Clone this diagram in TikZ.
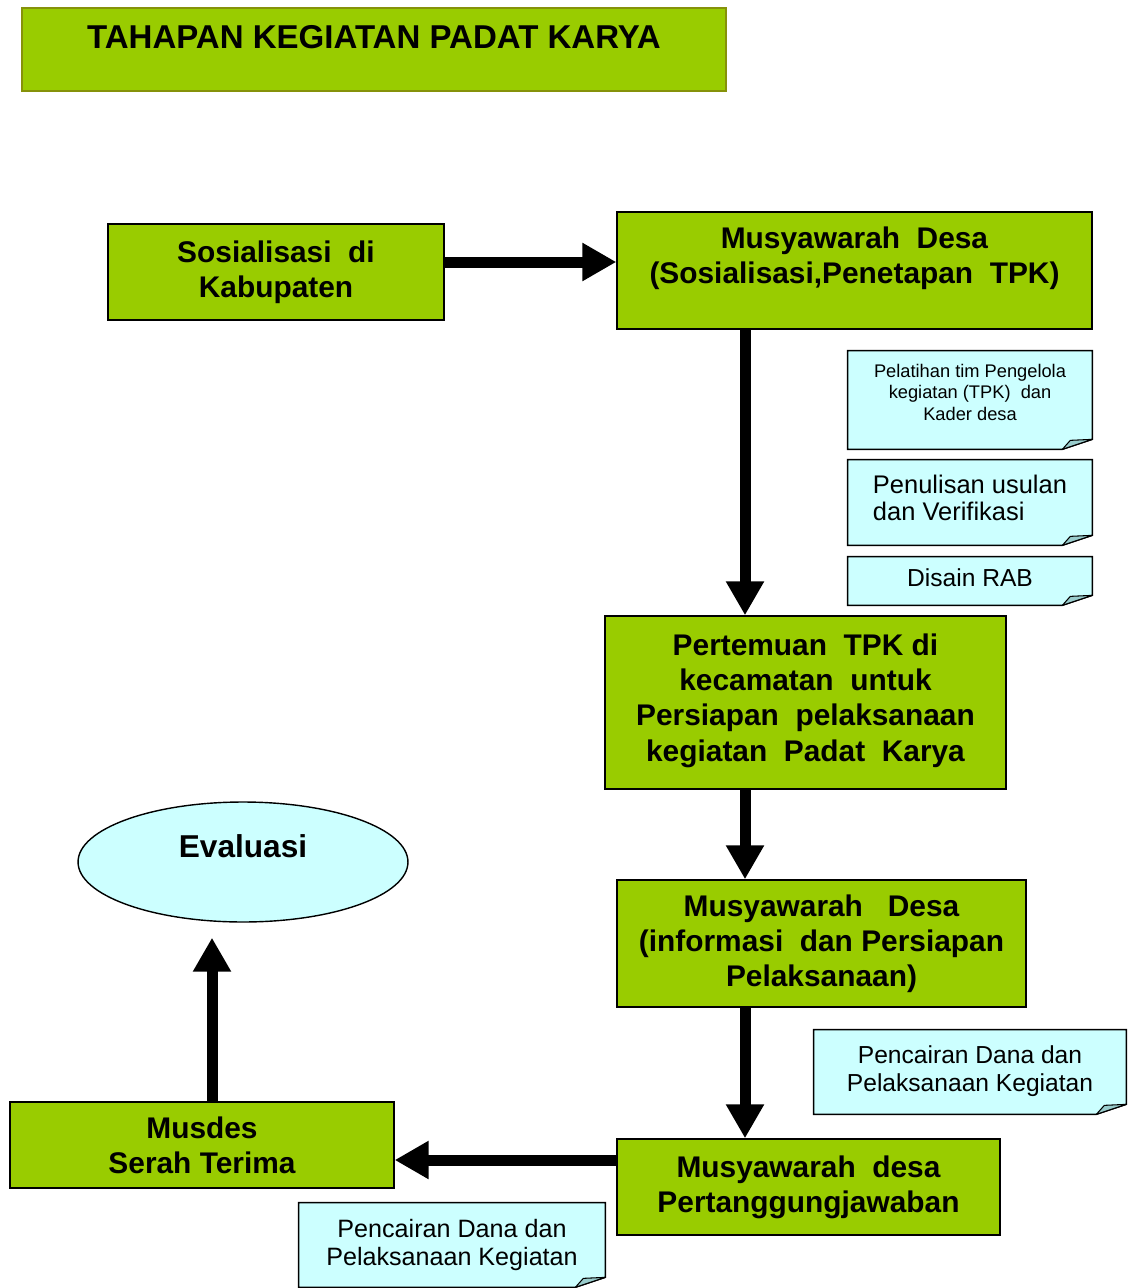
\documentclass[tikz,border=0pt]{standalone}
\usepackage{fontspec}
\setmainfont{Liberation Sans}
\usetikzlibrary{arrows.meta,shapes.geometric,backgrounds}

\definecolor{padatgreen}{HTML}{99CC00}
\definecolor{notecyan}{HTML}{CCFFFF}
\definecolor{foldcyan}{HTML}{99CCCC}
\definecolor{titleline}{HTML}{86920A}

\tikzset{
  stepbox/.style={draw=black, line width=0.8pt, fill=padatgreen, align=center,
    inner sep=0pt, font=\fontsize{17}{20}\selectfont\bfseries},
  notebox/.style={inner sep=0pt, align=center, font=\fontsize{14}{16}\selectfont},
  bigarrow/.style={line width=0.22cm, -{Triangle[length=0.68cm,width=0.72cm]}},
}

\begin{document}
\begin{tikzpicture}[x=0.02cm, y=-0.02cm]
  \useasboundingbox (0,0) rectangle (1132,1288);

  % judul
  \node[stepbox, draw=titleline, line width=1.1pt, minimum width=14.08cm, minimum height=1.66cm,
        text depth=0.5cm, font=\fontsize{18.8}{21}\selectfont\bfseries] (title) at (374,49.5)
        {TAHAPAN KEGIATAN PADAT KARYA};

  % tahapan
  \node[stepbox, minimum width=6.72cm, minimum height=1.92cm] (sosial) at (276,272)
        {Sosialisasi\ \ di\\Kabupaten};
  \node[stepbox, minimum width=9.5cm, minimum height=2.34cm, text depth=0.62cm] (musdesa) at (854.5,270.5)
        {Musyawarah\ \ Desa\\(Sosialisasi,Penetapan\ \ TPK)};
  \node[stepbox, minimum width=8.02cm, minimum height=3.46cm, text depth=0.2cm] (pertemuan) at (805.5,702.5)
        {Pertemuan\ \ TPK di\\kecamatan\ \ untuk\\Persiapan\ \ pelaksanaan\\kegiatan\ \ Padat\ \ Karya};
  \node[stepbox, minimum width=8.18cm, minimum height=2.54cm] (musinfo) at (821.5,943.5)
        {Musyawarah\ \ \ Desa\\(informasi\ \ dan Persiapan\\Pelaksanaan)};
  \node[stepbox, minimum width=7.66cm, minimum height=1.92cm] (mustanggung) at (808.5,1187)
        {Musyawarah\ \ desa\\Pertanggungjawaban};
  \node[stepbox, minimum width=7.68cm, minimum height=1.72cm] (serah) at (202,1145)
        {Musdes\\Serah Terima};
  \node[ellipse, draw=black, line width=0.8pt, fill=notecyan, minimum width=6.6cm, minimum height=2.4cm,
        inner sep=0pt, text depth=0.65cm, font=\fontsize{18}{21}\selectfont\bfseries] (evaluasi) at (243,862)
        {Evaluasi};

  % catatan
  \node[notebox, minimum width=4.88cm, minimum height=1.96cm, text depth=0.32cm,
        font=\fontsize{10.4}{12.3}\selectfont] (pelatihan) at (970,400)
        {Pelatihan\ tim\ Pengelola\\kegiatan\ (TPK)\ \ dan\\Kader\ desa};
  \node[notebox, minimum width=4.88cm, minimum height=1.7cm, align=left, text depth=0.2cm,
        font=\fontsize{14.5}{15.5}\selectfont] (penulisan) at (970,502.5)
        {Penulisan usulan\\dan Verifikasi};
  \node[notebox, minimum width=4.88cm, minimum height=0.96cm, text depth=0.15cm] (disain) at (970,581)
        {Disain RAB};
  \node[notebox, minimum width=6.24cm, minimum height=1.68cm, text depth=0.12cm] (pencairan) at (970,1072)
        {Pencairan Dana dan\\Pelaksanaan Kegiatan};
  \node[notebox, minimum width=6.12cm, minimum height=1.68cm, text depth=0.12cm,
        font=\fontsize{14.3}{16}\selectfont] (pencairanb) at (452,1245)
        {Pencairan Dana dan\\Pelaksanaan Kegiatan};

  \begin{scope}[on background layer]
    \foreach \n in {pelatihan,penulisan,disain,pencairan,pencairanb}{
      \filldraw[fill=notecyan, line width=0.8pt, line join=miter] (\n.north west) -- (\n.north east)
        -- ([yshift=0.2cm]\n.south east) -- ([xshift=-0.6cm]\n.south east) -- (\n.south west) -- cycle;
      \filldraw[fill=foldcyan, line width=0.6pt, line join=bevel] ([xshift=-0.6cm]\n.south east)
        -- ([xshift=-0.44cm,yshift=0.18cm]\n.south east) -- ([yshift=0.2cm]\n.south east) -- cycle;
    }
  \end{scope}

  % panah
  \coordinate (vkanan) at (745,0);
  \coordinate (vkiri) at (212,0);
  \coordinate (hatas) at (0,262);
  \coordinate (hbawah) at (0,1160);

  \draw[bigarrow] (sosial.east |- hatas) -- (musdesa.west |- hatas);
  \draw[bigarrow] (musdesa.south -| vkanan) -- (pertemuan.north -| vkanan);
  \draw[bigarrow] (pertemuan.south -| vkanan) -- (musinfo.north -| vkanan);
  \draw[bigarrow] (musinfo.south -| vkanan) -- (mustanggung.north -| vkanan);
  \draw[bigarrow] (mustanggung.west |- hbawah) -- (serah.east |- hbawah);
  \draw[bigarrow, shorten >=0.3cm] (serah.north -| vkiri) -- (evaluasi.south -| vkiri);
\end{tikzpicture}
\end{document}
